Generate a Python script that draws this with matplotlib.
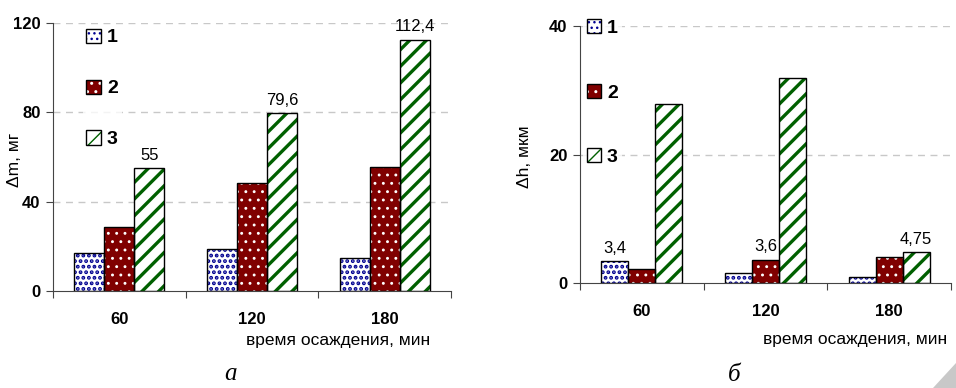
# Δm и Δh в зависимости от времени осаждения (две панели а, б)
import numpy as np
import matplotlib
matplotlib.use("Agg")
import matplotlib.pyplot as plt
from matplotlib.patches import Patch, Polygon
from matplotlib.legend_handler import HandlerTuple

plt.rcParams['font.family'] = ['Liberation Sans', 'DejaVu Sans']

# данные
times = ["60", "120", "180"]
series_names = ["1", "2", "3"]

dm_1 = [17.0, 18.8, 14.8]
dm_2 = [28.7, 48.4, 55.5]
dm_3 = [55.0, 79.6, 112.4]

dh_1 = [3.4, 1.6, 0.9]
dh_2 = [2.2, 3.6, 4.05]
dh_3 = [27.9, 31.9, 4.75]

dm_label_series = [2, 2, 2]  # над каким рядом подпись значения в каждой группе
dh_label_series = [0, 1, 2]

# стили рядов: (цвет фона, цвет штриховки, штриховка, толщина штриховки)
styles = [
    ("white", "#000090", "...", 1.9),
    ("#800000", "white", "..", 0.9),
    ("white", "#006000", "//", 2.4),
]


def draw_panel(ax, data, label_series, ymax, yticks, ylabel, caption, width, legend_pos, legend_space):
    """одна панель с тремя рядами столбцов"""
    x = np.arange(len(times))
    n = len(data)
    handles = []
    for k, (vals, (fc, hc, hatch, hlw)) in enumerate(zip(data, styles)):
        pos = x + (k - (n - 1) / 2) * width
        with plt.rc_context({'hatch.linewidth': hlw}):
            b1 = ax.bar(pos, vals, width, color=fc, edgecolor=hc, hatch=hatch, linewidth=0, zorder=2)
            for p in b1:
                if hasattr(p, "set_hatch_linewidth"):
                    p.set_hatch_linewidth(hlw)
        ax.bar(pos, vals, width, facecolor="none", edgecolor="black", linewidth=1.0, zorder=3)
        with plt.rc_context({'hatch.linewidth': hlw}):
            h1 = Patch(facecolor=fc, edgecolor=hc, hatch=hatch, linewidth=0)
            if hasattr(h1, "set_hatch_linewidth"):
                h1.set_hatch_linewidth(hlw)
        h2 = Patch(facecolor="none", edgecolor="black", linewidth=1.0)
        handles.append((h1, h2))

    # подписи значений
    for i, k in enumerate(label_series):
        v = data[k][i]
        pos = x[i] + (k - (n - 1) / 2) * width
        txt = ("%g" % v).replace(".", ",")
        ax.annotate(txt, (pos, v), xytext=(0, 4), textcoords="offset points",
                    ha="center", va="bottom", fontsize=12, annotation_clip=False)

    ax.set_xlim(-0.5, len(times) - 0.5)
    ax.set_ylim(0, ymax)

    # оси
    ax.spines["top"].set_visible(False)
    ax.spines["right"].set_visible(False)
    ax.spines["left"].set_color("#444444")
    ax.spines["bottom"].set_color("#444444")

    ax.set_yticks(yticks)
    ax.set_yticklabels([str(t) for t in yticks], fontweight="bold", fontsize=12)
    ax.tick_params(axis="y", direction="out", length=5, color="#444444", pad=4)

    ax.set_xticks(np.arange(-0.5, len(times), 1.0))
    ax.set_xticklabels([])
    ax.set_xticks(x, minor=True)
    ax.set_xticklabels(times, minor=True, fontweight="bold", fontsize=12)
    ax.tick_params(axis="x", which="major", direction="out", length=5, color="#444444")
    ax.tick_params(axis="x", which="minor", length=0, pad=15)

    # сетка
    for t in yticks[1:]:
        ax.axhline(t, color="#c8c8c8", linestyle=(0, (5, 4)), linewidth=1.0, zorder=0)

    ax.set_ylabel(ylabel, fontsize=12.5)
    ax.yaxis.set_label_coords(ylabel_x[caption], 0.49)
    ax.set_xlabel("время осаждения, мин", fontsize=12.5)
    ax.xaxis.set_label_coords(xlabel_x[caption], xlabel_y[caption])

    leg = ax.legend(handles, series_names, handler_map={tuple: HandlerTuple(ndivide=1)},
                    loc="upper left", bbox_to_anchor=legend_pos, frameon=True,
                    fancybox=False, borderpad=0.2, handlelength=0.75, handleheight=0.75,
                    handletextpad=0.3, labelspacing=legend_space,
                    prop={"weight": "bold", "size": 14})
    leg.get_frame().set_edgecolor("none")
    leg.get_frame().set_facecolor("white")

    ax.text(cap_x[caption], cap_y[caption], caption, transform=ax.transAxes, ha="center", va="center",
            fontsize=18, fontstyle="italic", family=["Liberation Serif", "DejaVu Serif"])


ylabel_x = {"а": -0.078, "б": -0.129}
xlabel_x = {"а": 0.716, "б": 0.741}
xlabel_y = {"а": -0.155, "б": -0.19}
cap_x = {"а": 0.445, "б": 0.417}
cap_y = {"а": -0.31, "б": -0.357}

fig = plt.figure(figsize=(9.56, 3.88), dpi=100)
ax1 = fig.add_axes([0.0554, 0.25, 0.4163, 0.6907])
ax2 = fig.add_axes([0.6067, 0.2706, 0.388, 0.6624])

draw_panel(ax1, [dm_1, dm_2, dm_3], dm_label_series, 120, [0, 40, 80, 120], "Δm, мг", "а",
           0.226, (0.05, 1.03), 1.7)
draw_panel(ax2, [dh_1, dh_2, dh_3], dh_label_series, 40, [0, 20, 40], "Δh, мкм", "б",
           0.218, (-0.019, 1.08), 2.4)

# уголок страницы
fig.patches.append(Polygon([[933 / 956, 0], [1, 0], [1, 25 / 388]], closed=True,
                           transform=fig.transFigure, facecolor="#c8c8c8", edgecolor="none"))

fig.savefig("out.png", dpi=100)
